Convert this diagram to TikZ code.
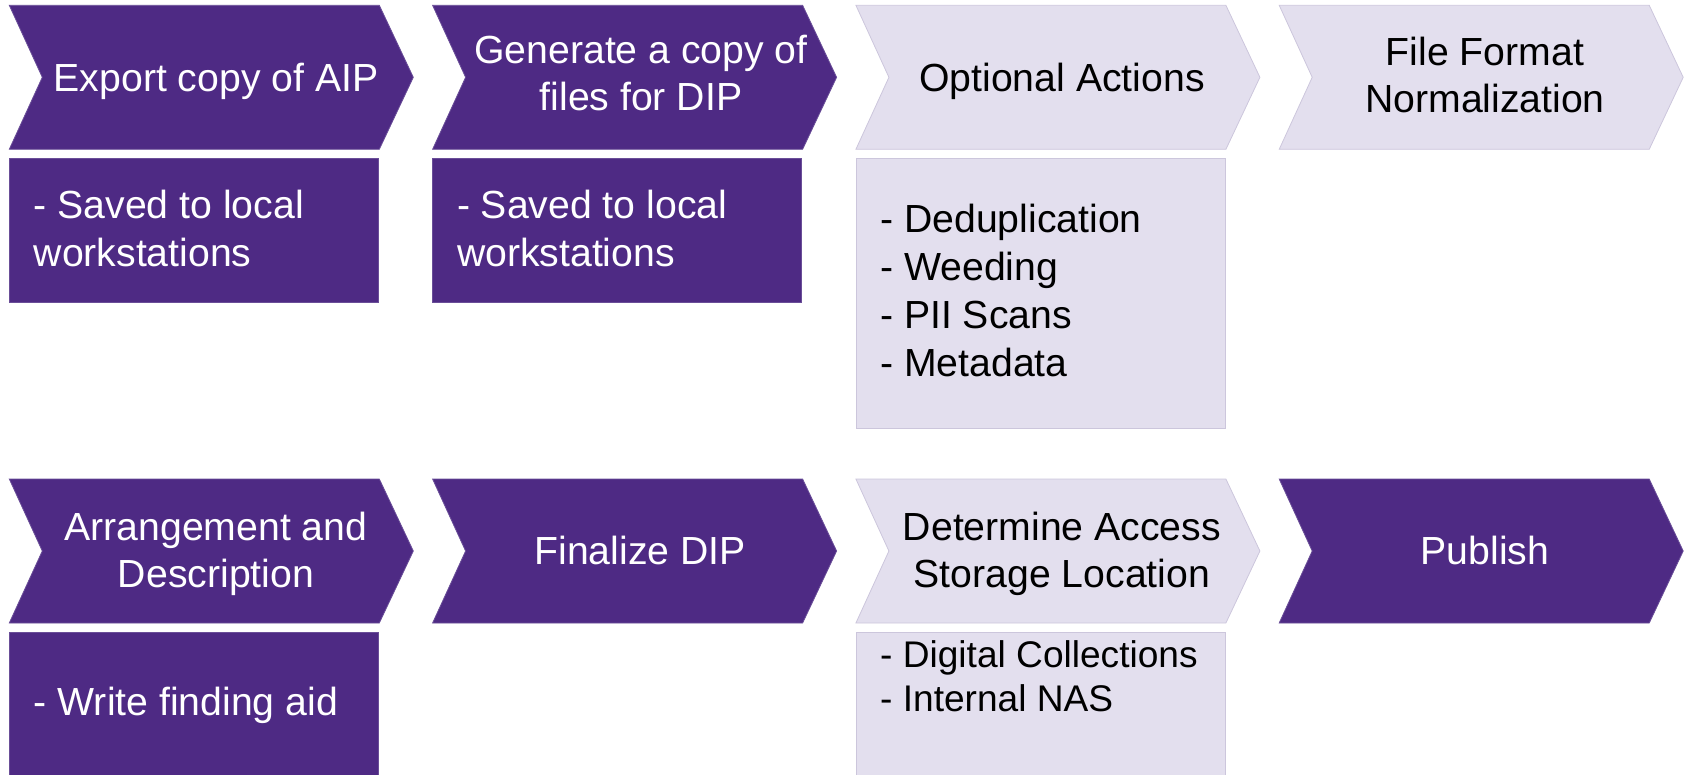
\documentclass[tikz,border=0pt]{standalone}
\usepackage{fontspec}
\setmainfont{Liberation Sans}
\definecolor{dkpurple}{HTML}{4E2A84}
\definecolor{dkedge}{HTML}{6A4E98}
\definecolor{ltfill}{HTML}{E3DFEE}
\definecolor{ltedge}{HTML}{CCC6DC}
\tikzset{
  dkshape/.style={fill=dkpurple, draw=dkedge, line width=0.8pt},
  ltshape/.style={fill=ltfill, draw=ltedge, line width=0.8pt},
  title/.style={inner sep=0pt, align=center, font=\fontsize{39.2}{47.5}\selectfont},
  itemtext/.style={inner sep=0pt, align=left, anchor=west, font=\fontsize{39.2}{48}\selectfont},
  smallitemtext/.style={itemtext, font=\fontsize{37.1}{44.5}\selectfont},
}
\newcommand{\chevronpath}[3]{% x0, ytop, ybottom
  (#1,#2) -- ({#1+370},#2) -- ({#1+404},{(#2+#3)/2}) -- ({#1+370},#3) -- (#1,#3) -- ({#1+33},{(#2+#3)/2}) -- cycle}
\begin{document}
\begin{tikzpicture}[x=1pt,y=-1pt]
\useasboundingbox (0,0) rectangle (1685,774);
% top row chevrons
\path[dkshape] \chevronpath{9.3}{5.3}{149.3};
\path[dkshape] \chevronpath{432.6}{5.3}{149.3};
\path[ltshape] \chevronpath{855.9}{5.3}{149.3};
\path[ltshape] \chevronpath{1279.2}{5.3}{149.3};
% top row boxes
\path[dkshape] (9.3,158) rectangle (378.3,302);
\path[dkshape] (432.6,158) rectangle (801.6,302);
\path[ltshape] (855.9,158) rectangle (1224.9,428);
% bottom row chevrons
\path[dkshape] \chevronpath{9.3}{479}{623};
\path[dkshape] \chevronpath{432.6}{479}{623};
\path[ltshape] \chevronpath{855.9}{479}{623};
\path[dkshape] \chevronpath{1279.2}{479}{623};
% bottom row boxes
\path[dkshape] (9.3,632) rectangle (378.3,780);
\path[ltshape] (855.9,632) rectangle (1224.9,780);
% titles
\node[title, text=white] (t1) at (216,81) {Export copy of AIP};
\node[title, text=white] (t2) at (641,73) {Generate a copy of\\files for DIP};
\node[title, text=black] (t3) at (1062,81) {Optional Actions};
\node[title, text=black] (t4) at (1485,75) {File Format\\Normalization};
\node[title, text=white] (t5) at (216,554) {Arrangement and\\Description};
\node[title, text=white] (t6) at (640,550) {Finalize DIP};
\node[title, text=black] (t7) at (1062,554) {Determine Access\\Storage Location};
\node[title, text=white] (t8) at (1485,550) {Publish};
% box texts
\node[itemtext, text=white] (b1) at (33.5,228) {- Saved to local\\workstations};
\node[itemtext, text=white] (b2) at (456.8,228) {- Saved to local\\workstations};
\node[itemtext, text=black] (b3) at (880,290) {- Deduplication\\- Weeding\\- PII Scans\\- Metadata};
\node[itemtext, text=white] (b5) at (33.5,705) {- Write finding aid};
\node[smallitemtext, text=black] (b7) at (880,676) {- Digital Collections\\- Internal NAS};
\end{tikzpicture}
\end{document}
